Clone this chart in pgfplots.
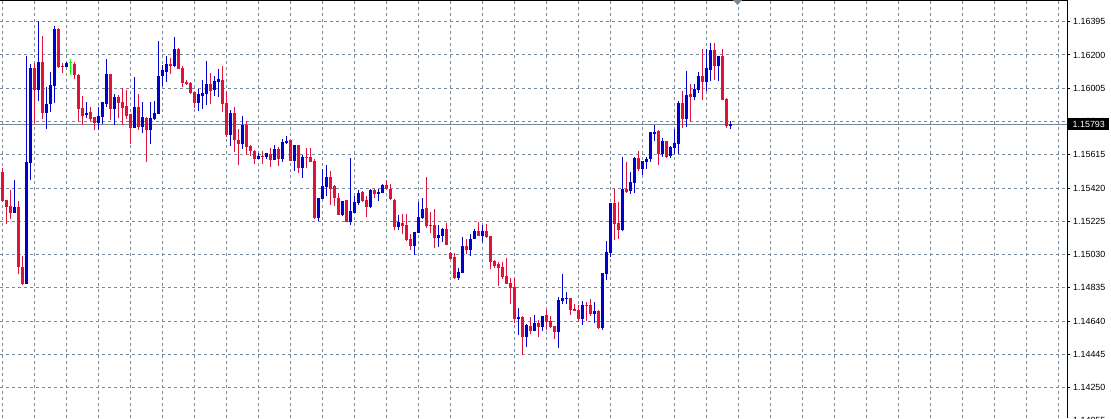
\documentclass[border=0pt]{standalone}
\usepackage{pgfplots}
\pgfplotsset{compat=1.18}
\usepackage{pgfplotstable}
\usepackage{fontspec}
\setmainfont{Liberation Sans}

\definecolor{slate}{HTML}{778899}
\definecolor{bull}{HTML}{0000CD}
\definecolor{bear}{HTML}{DC143C}
\definecolor{doji}{HTML}{00FF00}

% EURUSD-like candles: index, open, high, low, close
\pgfplotstableread{
k o h l c
0 1.15514 1.15536 1.15340 1.15346
1 1.15350 1.15352 1.15209 1.15311
2 1.15315 1.15409 1.15237 1.15276
3 1.15276 1.15467 1.15272 1.15309
4 1.15309 1.15344 1.14916 1.14959
5 1.14957 1.15022 1.14852 1.14858
6 1.14860 1.16194 1.14855 1.15573
7 1.15569 1.16147 1.15467 1.16124
8 1.16124 1.16151 1.15799 1.15995
9 1.15995 1.16399 1.15932 1.16159
10 1.16159 1.16311 1.15827 1.15862
11 1.15862 1.16010 1.15768 1.15913
12 1.15911 1.16100 1.15868 1.16024
13 1.16018 1.16370 1.15920 1.16352
14 1.16352 1.16355 1.16122 1.16131
15 1.16135 1.16155 1.16096 1.16129
16 1.16129 1.16157 1.16127 1.16155
17 1.16155 1.16174 1.16082 1.16155
18 1.16147 1.16161 1.16059 1.16082
19 1.16082 1.16088 1.15815 1.15885
20 1.15889 1.15958 1.15791 1.15842
21 1.15848 1.15924 1.15829 1.15860
22 1.15866 1.15895 1.15815 1.15825
23 1.15836 1.15838 1.15762 1.15801
24 1.15801 1.15895 1.15762 1.15842
25 1.15838 1.15926 1.15797 1.15924
26 1.15913 1.16176 1.15895 1.16088
27 1.16088 1.16090 1.15819 1.15885
28 1.15885 1.15971 1.15791 1.15954
29 1.15954 1.15965 1.15832 1.15918
30 1.15924 1.16006 1.15791 1.15889
31 1.15901 1.15995 1.15823 1.15842
32 1.15854 1.15856 1.15680 1.15774
33 1.15774 1.16071 1.15772 1.15895
34 1.15895 1.15971 1.15762 1.15778
35 1.15780 1.15924 1.15745 1.15836
36 1.15831 1.15836 1.15575 1.15762
37 1.15762 1.15924 1.15680 1.15831
38 1.15827 1.15930 1.15821 1.15860
39 1.15856 1.16282 1.15854 1.16077
40 1.16077 1.16141 1.16018 1.16112
41 1.16102 1.16194 1.16043 1.16147
42 1.16147 1.16182 1.16090 1.16137
43 1.16137 1.16305 1.16131 1.16235
44 1.16237 1.16243 1.16118 1.16120
45 1.16124 1.16135 1.16012 1.16036
46 1.16041 1.16053 1.16024 1.16032
47 1.16036 1.16041 1.15971 1.15977
48 1.15983 1.15985 1.15889 1.15918
49 1.15918 1.16000 1.15873 1.15971
50 1.15960 1.16053 1.15882 1.15977
51 1.15971 1.16165 1.15907 1.16030
52 1.16030 1.16094 1.15913 1.15989
53 1.15995 1.16077 1.15960 1.16048
54 1.16042 1.16118 1.15954 1.16059
55 1.16053 1.16135 1.15867 1.15914
56 1.15918 1.15990 1.15721 1.15731
57 1.15731 1.15877 1.15668 1.15860
58 1.15860 1.15895 1.15633 1.15701
59 1.15701 1.15766 1.15557 1.15678
60 1.15678 1.15842 1.15651 1.15789
61 1.15789 1.15811 1.15616 1.15662
62 1.15666 1.15672 1.15608 1.15637
63 1.15639 1.15643 1.15563 1.15592
64 1.15592 1.15625 1.15590 1.15608
65 1.15608 1.15637 1.15563 1.15602
66 1.15602 1.15627 1.15592 1.15625
67 1.15619 1.15655 1.15543 1.15586
68 1.15586 1.15672 1.15584 1.15649
69 1.15649 1.15660 1.15551 1.15592
70 1.15592 1.15707 1.15574 1.15690
71 1.15684 1.15725 1.15678 1.15696
72 1.15701 1.15703 1.15578 1.15580
73 1.15580 1.15674 1.15522 1.15672
74 1.15672 1.15674 1.15510 1.15539
75 1.15539 1.15613 1.15481 1.15602
76 1.15602 1.15655 1.15537 1.15596
77 1.15602 1.15655 1.15572 1.15574
78 1.15580 1.15592 1.15240 1.15244
79 1.15244 1.15364 1.15229 1.15362
80 1.15358 1.15533 1.15356 1.15432
81 1.15428 1.15553 1.15375 1.15485
82 1.15485 1.15522 1.15322 1.15416
83 1.15432 1.15440 1.15317 1.15363
84 1.15362 1.15389 1.15262 1.15264
85 1.15264 1.15346 1.15258 1.15344
86 1.15348 1.15350 1.15221 1.15223
87 1.15223 1.15596 1.15203 1.15285
88 1.15276 1.15373 1.15274 1.15338
89 1.15334 1.15408 1.15322 1.15391
90 1.15397 1.15403 1.15340 1.15346
91 1.15350 1.15373 1.15252 1.15311
92 1.15309 1.15414 1.15305 1.15408
93 1.15408 1.15414 1.15363 1.15387
94 1.15387 1.15414 1.15346 1.15397
95 1.15391 1.15444 1.15389 1.15438
96 1.15438 1.15467 1.15412 1.15414
97 1.15414 1.15444 1.15350 1.15356
98 1.15352 1.15356 1.15176 1.15194
99 1.15194 1.15262 1.15172 1.15221
100 1.15215 1.15268 1.15153 1.15200
101 1.15203 1.15268 1.15110 1.15116
102 1.15122 1.15151 1.15057 1.15082
103 1.15082 1.15164 1.15030 1.15162
104 1.15159 1.15338 1.15157 1.15250
105 1.15245 1.15362 1.15239 1.15297
106 1.15303 1.15485 1.15186 1.15198
107 1.15203 1.15280 1.15157 1.15198
108 1.15203 1.15297 1.15071 1.15127
109 1.15127 1.15203 1.15077 1.15145
110 1.15141 1.15186 1.15104 1.15180
111 1.15180 1.15215 1.15086 1.15088
112 1.15041 1.15043 1.15004 1.15006
113 1.15016 1.15039 1.14887 1.14893
114 1.14893 1.14952 1.14883 1.14928
115 1.14924 1.15133 1.14922 1.15080
116 1.15080 1.15122 1.15036 1.15057
117 1.15057 1.15151 1.15024 1.15122
118 1.15122 1.15180 1.15120 1.15168
119 1.15168 1.15221 1.15139 1.15141
120 1.15141 1.15203 1.15106 1.15168
121 1.15168 1.15209 1.15127 1.15133
122 1.15139 1.15141 1.14946 1.14989
123 1.14993 1.14998 1.14953 1.14965
124 1.14975 1.14987 1.14848 1.14953
125 1.14957 1.14987 1.14887 1.14899
126 1.14905 1.15010 1.14858 1.14860
127 1.14864 1.14893 1.14743 1.14836
128 1.14840 1.14895 1.14631 1.14655
129 1.14655 1.14717 1.14561 1.14664
130 1.14664 1.14670 1.14444 1.14549
131 1.14549 1.14625 1.14491 1.14619
132 1.14614 1.14664 1.14567 1.14584
133 1.14584 1.14676 1.14582 1.14631
134 1.14631 1.14649 1.14549 1.14608
135 1.14608 1.14672 1.14584 1.14670
136 1.14676 1.14705 1.14590 1.14637
137 1.14641 1.14670 1.14602 1.14608
138 1.14612 1.14614 1.14537 1.14578
139 1.14578 1.14782 1.14485 1.14764
140 1.14760 1.14916 1.14743 1.14776
141 1.14772 1.14811 1.14743 1.14776
142 1.14776 1.14778 1.14678 1.14707
143 1.14711 1.14741 1.14698 1.14702
144 1.14705 1.14735 1.14637 1.14653
145 1.14653 1.14758 1.14619 1.14735
146 1.14735 1.14752 1.14643 1.14731
147 1.14735 1.14770 1.14672 1.14684
148 1.14684 1.14752 1.14631 1.14700
149 1.14700 1.14705 1.14596 1.14602
150 1.14602 1.14924 1.14590 1.14922
151 1.14918 1.15110 1.14883 1.15045
152 1.15041 1.15334 1.15018 1.15332
153 1.15332 1.15414 1.15118 1.15211
154 1.15215 1.15338 1.15122 1.15176
155 1.15176 1.15604 1.15170 1.15414
156 1.15414 1.15573 1.15391 1.15397
157 1.15403 1.15514 1.15385 1.15456
158 1.15450 1.15602 1.15393 1.15596
159 1.15596 1.15637 1.15520 1.15532
160 1.15532 1.15581 1.15497 1.15579
161 1.15573 1.15602 1.15534 1.15590
162 1.15590 1.15750 1.15573 1.15748
163 1.15737 1.15789 1.15696 1.15748
164 1.15754 1.15760 1.15555 1.15620
165 1.15620 1.15713 1.15602 1.15696
166 1.15696 1.15698 1.15596 1.15602
167 1.15608 1.15667 1.15596 1.15661
168 1.15655 1.15766 1.15622 1.15684
169 1.15678 1.15930 1.15622 1.15918
170 1.15918 1.15989 1.15772 1.15825
171 1.15825 1.16106 1.15778 1.15965
172 1.15971 1.16030 1.15807 1.15954
173 1.15954 1.16030 1.15936 1.16000
174 1.15995 1.16100 1.15977 1.16077
175 1.16077 1.16235 1.15936 1.16041
176 1.16041 1.16235 1.15989 1.16123
177 1.16112 1.16270 1.16047 1.16229
178 1.16229 1.16270 1.16053 1.16135
179 1.16135 1.16196 1.16047 1.16194
180 1.16194 1.16235 1.15934 1.15936
181 1.15942 1.15948 1.15772 1.15784
182 1.15782 1.15813 1.15766 1.15793
}\candles

\begin{document}
\begin{tikzpicture}
\useasboundingbox (0,-418pt) rectangle (1111pt,0);
\clip (0,-418pt) rectangle (1111pt,0);
\begin{axis}[
    at={(0,0)}, anchor=north west,
    scale only axis,
    width=1067pt, height=430.3pt,
    xmin=-0.575, xmax=266.2,
    ymin=1.14000, ymax=1.16522,
    axis line style={draw=none},
    xtick={0,8,...,264},
    xticklabels={},
    xtick style={draw=none},
    ytick={1.14055,1.14250,1.14445,1.14640,1.14835,1.15030,1.15225,1.15420,1.15615,1.15810,1.16005,1.16200,1.16395},
    yticklabels={1.14055,1.14250,1.14445,1.14640,1.14835,1.15030,1.15225,1.15420,1.15615,1.15810,1.16005,1.16200,1.16395},
    ytick pos=right,
    yticklabel pos=right,
    tick align=outside,
    major tick length=3pt,
    ytick style={black, line width=1pt},
    yticklabel style={anchor=west, inner sep=0pt, xshift=3pt, font=\fontsize{8.9}{10}\selectfont},
    xmajorgrids, ymajorgrids,
    grid style={slate, line width=1pt, dash pattern=on 3pt off 3pt},
]

% current price line
\addplot[slate, line width=1pt, mark=none, forget plot] coordinates {(-0.575,1.15793) (266.2,1.15793)};

% wicks (direction from close minus open, in points)
\addplot[bull, line width=1pt, mark=none, quiver={u=0, v=\thisrow{h}-\thisrow{l}}]
    table[x=k, y expr={(\thisrow{c}-\thisrow{o})*100000 > 0.5 ? \thisrow{l} : nan}] {\candles};
\addplot[bear, line width=1pt, mark=none, quiver={u=0, v=\thisrow{h}-\thisrow{l}}]
    table[x=k, y expr={(\thisrow{o}-\thisrow{c})*100000 > 0.5 ? \thisrow{l} : nan}] {\candles};
\addplot[doji, line width=1pt, mark=none, quiver={u=0, v=\thisrow{h}-\thisrow{l}}]
    table[x=k, y expr={abs(\thisrow{c}-\thisrow{o})*100000 < 0.5 ? \thisrow{l} : nan}] {\candles};

% bodies
\addplot[bull, line width=3pt, mark=none, quiver={u=0, v={max(\thisrow{c}-\thisrow{o},0.00006)}}]
    table[x=k, y expr={(\thisrow{c}-\thisrow{o})*100000 > 0.5 ? \thisrow{o} : nan}] {\candles};
\addplot[bear, line width=3pt, mark=none, quiver={u=0, v={max(\thisrow{o}-\thisrow{c},0.00006)}}]
    table[x=k, y expr={(\thisrow{o}-\thisrow{c})*100000 > 0.5 ? \thisrow{c} : nan}] {\candles};
\addplot[doji, line width=3pt, mark=none, quiver={u=0, v=0.00006}]
    table[x=k, y expr={abs(\thisrow{c}-\thisrow{o})*100000 < 0.5 ? \thisrow{o} : nan}] {\candles};

\coordinate (pl) at (axis cs:266.2,1.15793);
\end{axis}

% frame: top and right edges
\draw[black, line width=1pt] (0,-0.5pt) -- (1067pt,-0.5pt);
\draw[black, line width=1pt] (1067pt,0) -- (1067pt,-418pt);
% chart shift marker
\fill[slate] (733pt,0) -- (742pt,0) -- (737.5pt,-5pt) -- cycle;
% current price label
\node[fill=black, text=white, anchor=west, inner xsep=4.5pt, inner ysep=0pt,
      minimum height=12pt, font=\fontsize{8.9}{10}\selectfont] at ([xshift=1pt]pl) {1.15793};
\end{tikzpicture}
\end{document}
